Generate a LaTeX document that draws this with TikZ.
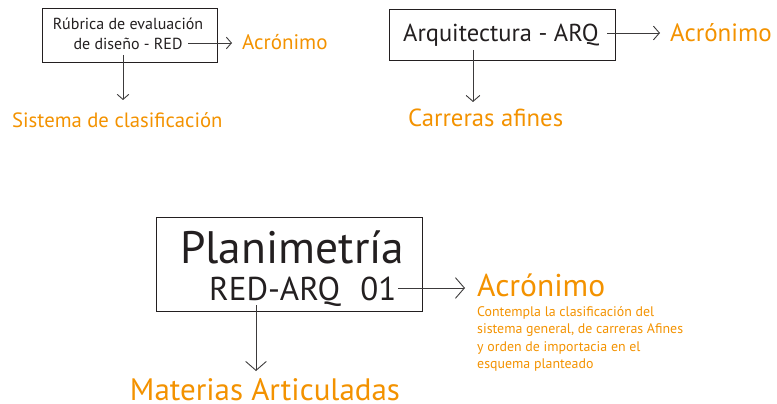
\documentclass[tikz,border=0pt]{standalone}
\usepackage{fontspec}
\setmainfont{PT Sans}
\usetikzlibrary{arrows.meta}
\definecolor{naranja}{HTML}{F39200}
\definecolor{tinta}{HTML}{231F20}
\definecolor{linea}{HTML}{3C3A3B}
\tikzset{
  caja/.style={draw=tinta,line width=1pt,inner sep=0pt},
  texto/.style={text=tinta,inner sep=0pt},
  nota/.style={text=naranja,inner sep=0pt},
  flecha/.style={draw=linea,line width=0.9pt,-{Straight Barb[length=#1,width=2.3*#1]}},
  flecha/.default=5pt
}
\begin{document}
\begin{tikzpicture}[x=1pt,y=-1pt]
      \useasboundingbox (0,0) rectangle (777,404);
      % primera caja
      \node[caja,minimum width=175pt,minimum height=54pt,anchor=north west] (c1) at (42,8) {};
      \node[texto,font=\fontsize{16}{18}\selectfont,anchor=base] (rub) at (128,30) {Rúbrica de evaluación};
      \node[texto,font=\fontsize{16}{18}\selectfont,anchor=base] (red) at (128,50) {de diseño - RED};
      \node[nota,font=\fontsize{21}{24}\selectfont,anchor=base west] (acr1) at (242,50) {Acrónimo};
      \node[nota,font=\fontsize{20.7}{24}\selectfont,anchor=base west] (sis) at (12,127) {Sistema de clasificación};
      \coordinate (s1) at (188,43);
      \coordinate (f1) at (232,43);
      \coordinate (b1) at (123,55);
      \coordinate (g1) at (123,100);
      \draw[flecha] (s1) -- (f1);
      \draw[flecha] (b1) -- (g1);
      % segunda caja
      \node[caja,minimum width=226pt,minimum height=51pt,anchor=north west] (c2) at (389,9) {};
      \node[texto,font=\fontsize{24.5}{28}\selectfont,anchor=base west] (arq) at (403,42) {Arquitectura - ARQ};
      \node[nota,font=\fontsize{25}{28}\selectfont,anchor=base west] (acr2) at (670,42) {Acrónimo};
      \node[nota,font=\fontsize{24.7}{28}\selectfont,anchor=base west] (car) at (408,126) {Carreras afines};
      \coordinate (s2) at (607,33);
      \coordinate (f2) at (660,33);
      \coordinate (b2) at (473,50);
      \coordinate (g2) at (473,102);
      \draw[flecha=6pt] (s2) -- (f2);
      \draw[flecha=6pt] (b2) -- (g2);
      % caja principal
      \node[caja,line width=1.2pt,minimum width=266pt,minimum height=94pt,anchor=north west] (c3) at (156,217) {};
      \node[texto,font=\fontsize{45.5}{48}\selectfont,anchor=base west] (pla) at (180,263) {Planimetría};
      \node[texto,font=\fontsize{33}{36}\selectfont,anchor=base west] (cod) at (209,300) {RED-ARQ\hspace{0.35em} 01};
      \node[nota,font=\fontsize{31.5}{34}\selectfont,anchor=base west] (acr3) at (477,296) {Acrónimo};
      \node[nota,font=\fontsize{13.9}{17.5}\selectfont,anchor=north west,align=left] (des) at (477,306)
        {Contempla la clasificación del\\sistema general, de carreras Afines\\y orden de importacia en el\\esquema planteado};
      \node[nota,font=\fontsize{31}{34}\selectfont,anchor=base] (mat) at (265,400) {Materias Articuladas};
      \coordinate (s3) at (398,288);
      \coordinate (f3) at (465,288);
      \coordinate (b3) at (256,305);
      \coordinate (g3) at (256,371);
      \draw[flecha=9pt] (s3) -- (f3);
      \draw[flecha=9pt] (b3) -- (g3);
\end{tikzpicture}
\end{document}
